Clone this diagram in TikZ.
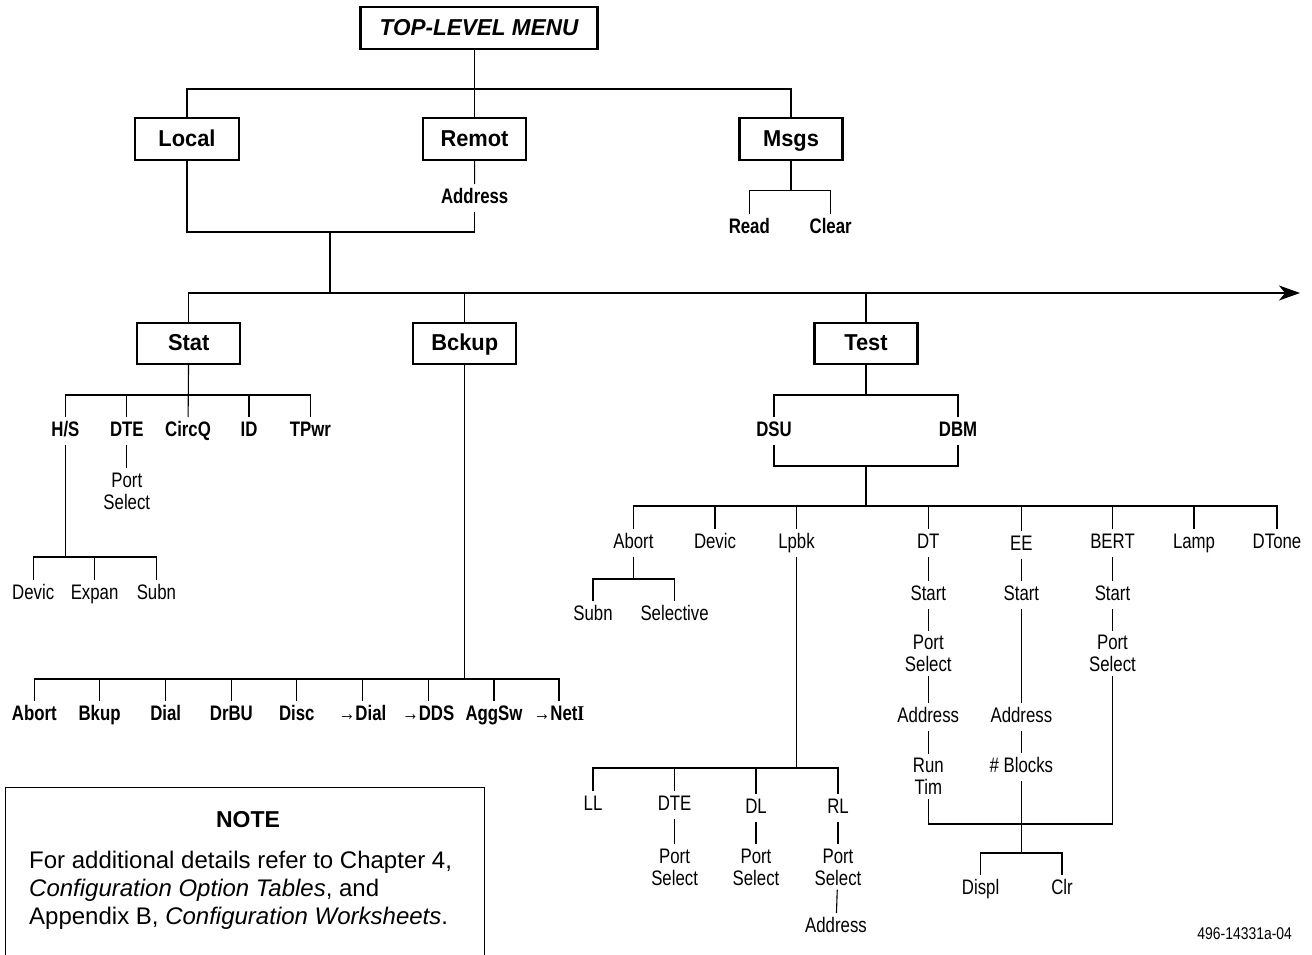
\documentclass[tikz,border=0pt]{standalone}
\usepackage{fontspec}
\setmainfont{Liberation Sans}
\newfontfamily\condf[FakeStretch=0.8]{Liberation Sans}
\newfontfamily\boxf[FakeStretch=0.95]{Liberation Sans}
\newfontfamily\topf[FakeStretch=0.98]{Liberation Sans}
\newfontfamily\numf[FakeStretch=0.82]{Liberation Sans}
\newfontfamily\serf[FakeStretch=0.85]{Liberation Serif}
\usetikzlibrary{arrows.meta}

\tikzset{
  conn/.style={line width=1.1pt},
  menubox/.style={draw, line width=2.2pt, inner sep=0pt,
    minimum width=103pt, minimum height=41pt,
    text height=15pt, text depth=0pt,
    font=\boxf\bfseries\fontsize{23}{26}\selectfont},
  lab/.style={inner sep=0pt, outer sep=4.5pt, text height=15pt, text depth=4pt,
    font=\condf\fontsize{21}{22}\selectfont},
  blab/.style={lab, font=\condf\bfseries\fontsize{21}{22}\selectfont},
  lab2/.style={inner sep=0pt, outer sep=4.5pt, align=center,
    font=\condf\fontsize{21}{22}\selectfont},
}

\begin{document}
\begin{tikzpicture}[x=1pt,y=-1pt]
\useasboundingbox (0,0) rectangle (1312,955);

% ---------- top level ----------
\node[menubox, minimum width=237pt, minimum height=42pt,
      font=\topf\bfseries\itshape\fontsize{23}{26}\selectfont] (top) at (479,28) {TOP-LEVEL MENU};
\node[menubox, minimum width=104pt, minimum height=42pt] (local) at (187,139) {Local};
\node[menubox, minimum height=42pt] (remot) at (474.5,139) {Remot};
\node[menubox, minimum height=42pt] (msgs) at (791,139) {Msgs};

\coordinate (bus1) at (474.7,89);
\draw[conn] (local) |- (bus1) -| (msgs);
\draw[conn] (top.south -| remot.north) -- (remot.north);

% Remot branch
\node[blab] (raddr) at (474.7,198) {Address};
\draw[conn] (remot) -- (raddr);

% Msgs branch
\coordinate (mbus) at (791,190.7);
\node[blab] (read) at (749.3,228) {Read};
\node[blab] (clear) at (830.7,228) {Clear};
\draw[conn] (msgs) -- (mbus);
\draw[conn] (read) |- (mbus) -| (clear);

% Local / Remot join
\coordinate (bus2) at (330,232);
\coordinate (bus3) at (330,293);
\coordinate (aend) at (1300,293);
\draw[conn] (local) |- (bus2) -| (raddr);
\draw[conn] (bus2) -- (bus3);

% ---------- second level ----------
\node[menubox] (stat) at (188.7,343.4) {Stat};
\node[menubox] (bckup) at (464.8,343.4) {Bckup};
\node[menubox] (test) at (866,343.4) {Test};

\draw[conn, -{Stealth[length=21pt, width=15pt, inset=6pt]}] (stat) |- (aend);
\draw[conn] (bckup) -- (bckup.north |- bus3);
\draw[conn] (test) -- (test.north |- bus3);

% ---------- Stat ----------
\coordinate (sbus) at (188,395);
\node[blab] (hs) at (65.4,431) {H/S};
\node[blab] (sdte) at (126.8,431) {DTE};
\node[blab] (circq) at (188,431) {CircQ};
\node[blab] (id) at (249,431) {ID};
\node[blab] (tpwr) at (310.4,431) {TPwr};
\draw[conn] (stat) -- (circq);
\draw[conn] (hs) |- (sbus) -| (tpwr);
\draw[conn] (sdte) -- (sdte |- sbus);
\draw[conn] (id) -- (id |- sbus);

\node[lab2] (sps) at (126.8,490.9) {Port\\Select};
\draw[conn] (sdte) -- (sps);

\coordinate (hbus) at (65.4,557);
\node[lab] (devic) at (33.2,593.7) {Devic};
\node[lab] (expan) at (94.6,593.7) {Expan};
\node[lab] (subn) at (156.4,593.7) {Subn};
\draw[conn] (hs) -- (hbus);
\draw[conn] (devic) |- (hbus) -| (subn);
\draw[conn] (expan) -- (expan |- hbus);

% ---------- Bckup ----------
\coordinate (bbus) at (464.8,679);
\node[blab] (babort) at (34.3,715) {Abort};
\node[blab] (bbkup) at (99.6,715) {Bkup};
\node[blab] (bdial) at (165.7,715) {Dial};
\node[blab] (bdrbu) at (231.4,715) {DrBU};
\node[blab] (bdisc) at (296.8,715) {Disc};
\node[blab] (btodial) at (362.5,715) {{\mdseries→}Dial};
\node[blab] (btodds) at (428.2,715) {{\mdseries→}DDS};
\node[blab] (baggsw) at (494,715) {AggSw};
\node[blab] (bneti) at (559,715) {{\mdseries→}Net{\serf I}};
\draw[conn] (bckup) -- (bbus);
\draw[conn] (babort) |- (bbus) -| (bneti);
\foreach \n in {bbkup,bdial,bdrbu,bdisc,btodial,btodds,baggsw}
  \draw[conn] (\n) -- (\n |- bbus);

% ---------- Test ----------
\coordinate (tbus) at (866,395);
\coordinate (tbus2) at (866,466);
\coordinate (tbus3) at (866,506);
\node[blab] (dsu) at (774,431) {DSU};
\node[blab] (dbm) at (958,431) {DBM};
\draw[conn] (test) -- (tbus);
\draw[conn] (dsu) |- (tbus) -| (dbm);
\draw[conn] (dsu) |- (tbus2) -| (dbm);
\draw[conn] (tbus2) -- (tbus3);

\node[lab] (tabort) at (633.4,542.7) {Abort};
\node[lab] (tdevic) at (715,542.7) {Devic};
\node[lab] (lpbk) at (796.5,542.7) {Lpbk};
\node[lab] (dt) at (928.3,542.7) {DT};
\node[lab] (ee) at (1021.4,544.5) {EE};
\node[lab] (bert) at (1112.5,542.7) {BERT};
\node[lab] (lamp) at (1194,542.7) {Lamp};
\node[lab] (dtone) at (1277,542.7) {DTone};
\draw[conn] (tabort) |- (tbus3) -| (dtone);
\foreach \n in {tdevic,lpbk,dt,ee,bert,lamp}
  \draw[conn] (\n) -- (\n |- tbus3);

% Abort
\coordinate (abus) at (633.4,579);
\node[lab] (asubn) at (593,615) {Subn};
\node[lab] (asel) at (674.6,615) {Selective};
\draw[conn] (tabort) -- (abus);
\draw[conn] (asubn) |- (abus) -| (asel);

% Lpbk
\coordinate (lbus) at (796.5,768);
\node[lab] (ll) at (593,805) {LL};
\node[lab] (ldte) at (674.6,805) {DTE};
\node[lab] (ldl) at (756,808) {DL};
\node[lab] (lrl) at (838,808) {RL};
\draw[conn] (lpbk) -- (lbus);
\draw[conn] (ll) |- (lbus) -| (lrl);
\draw[conn] (ldte) -- (ldte |- lbus);
\draw[conn] (ldl) -- (ldl |- lbus);
\node[lab2] (ldteps) at (674.6,866.9) {Port\\Select};
\node[lab2] (ldlps) at (756,866.9) {Port\\Select};
\node[lab2] (lrlps) at (838,866.9) {Port\\Select};
\node[lab] (lrladdr) at (836,927) {Address};
\draw[conn] (ldte) -- (ldteps);
\draw[conn] (ldl) -- (ldlps);
\draw[conn] (lrl) -- (lrlps);
\draw[conn] (lrlps) -- (lrladdr);

% DT
\node[lab] (dtstart) at (928.3,595.3) {Start};
\node[lab2] (dtps) at (928.3,653.5) {Port\\Select};
\node[lab] (dtaddr) at (928.3,717) {Address};
\node[lab2] (dtrun) at (928.3,776.7) {Run\\Tim};
\draw[conn] (dt) -- (dtstart);
\draw[conn] (dtstart) -- (dtps);
\draw[conn] (dtps) -- (dtaddr);
\draw[conn] (dtaddr) -- (dtrun);

% EE
\node[lab] (eestart) at (1021.4,595.3) {Start};
\node[lab] (eeaddr) at (1021.4,717) {Address};
\node[lab] (blocks) at (1021.4,767) {\# Blocks};
\draw[conn] (ee) -- (eestart);
\draw[conn] (eestart) -- (eeaddr);
\draw[conn] (eeaddr) -- (blocks);

% BERT
\node[lab] (bstart) at (1112.5,595.3) {Start};
\node[lab2] (bps) at (1112.5,653.5) {Port\\Select};
\draw[conn] (bert) -- (bstart);
\draw[conn] (bstart) -- (bps);

% results
\coordinate (jbus) at (1021.4,824);
\coordinate (dbus) at (1021.4,853);
\draw[conn] (dtrun) |- (jbus) -| (bps);
\draw[conn] (blocks) -- (dbus);
\node[lab] (displ) at (980.6,888.7) {Displ};
\node[lab] (clr) at (1062,888.7) {Clr};
\draw[conn] (displ) |- (dbus) -| (clr);

% ---------- note ----------
\node[draw, line width=1pt, anchor=north, minimum width=479pt, minimum height=220pt, inner sep=0pt]
  (note) at (244.5,786.7) {};
\node[font=\bfseries\fontsize{23}{26}\selectfont, inner sep=0pt] (notehead) at (248,820) {NOTE};
\node[anchor=north west, inner sep=0pt, align=left,
      font=\fontsize{24}{28}\selectfont] (notebody) at (29,851)
  {For additional details refer to Chapter 4,\\
   \textit{Configuration Option Tables}, and\\
   Appendix B, \textit{Configuration Worksheets}.};

% drawing number
\node[inner sep=0pt, font=\numf\fontsize{17}{20}\selectfont] (code) at (1244.7,933.3) {496-14331a-04};
\end{tikzpicture}
\end{document}
